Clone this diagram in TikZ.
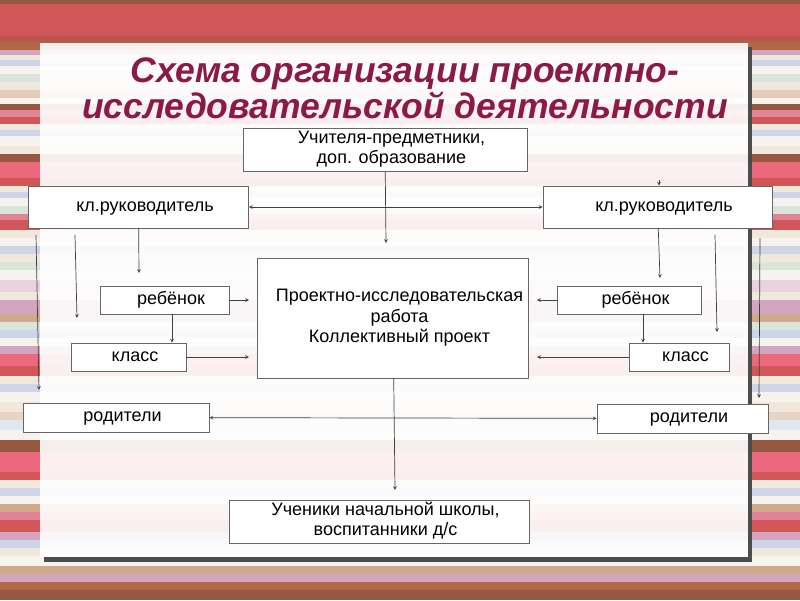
\documentclass[tikz,border=0pt]{standalone}
\usepackage{fontspec}
\setmainfont{Liberation Sans}

\definecolor{titlered}{RGB}{140,26,72}
\definecolor{sred}{RGB}{208,86,88}
\definecolor{sbrown}{RGB}{150,88,64}
\definecolor{sorange}{RGB}{176,104,70}
\definecolor{spink}{RGB}{236,104,124}
\definecolor{srose}{RGB}{226,130,150}
\definecolor{smauve}{RGB}{210,166,190}
\definecolor{sblue}{RGB}{204,214,232}
\definecolor{scream}{RGB}{240,232,218}
\definecolor{swhite}{RGB}{246,242,238}
\definecolor{stan}{RGB}{208,168,138}
\definecolor{sgreen}{RGB}{218,228,218}

% box text, set a little to the right as in the slide
\newcommand\bxt[1]{\hspace*{13pt}\begin{tabular}{@{}c@{}}#1\end{tabular}}

\begin{document}
\begin{tikzpicture}[>=stealth, x=1pt, y=-1pt,
  box/.style={draw=black!60, fill=white, line width=.8pt, inner sep=0pt,
    font=\fontsize{18}{20.5}\selectfont},
  link/.style={draw=black!75, line width=.7pt}]
\useasboundingbox (0,0) rectangle (800,600);

% stripes
\foreach \a/\b/\c in {0/4/sbrown, 4/36/sred, 36/42/sred!60!sbrown, 42/50/sorange,
  50/55/smauve, 55/60/scream, 60/66/sblue, 66/74/swhite, 74/82/sgreen, 82/90/scream,
  90/98/stan!60!white, 98/104/swhite, 104/110/sbrown, 110/117/srose, 117/124/sred,
  124/130/scream, 130/136/sblue, 136/146/swhite, 146/154/scream, 154/162/sbrown,
  162/178/spink, 178/186/sred, 186/192/scream, 192/198/sblue, 198/206/swhite,
  206/214/sgreen, 214/220/srose, 220/230/sred, 230/238/scream, 238/246/swhite,
  246/254/sblue, 254/262/scream, 262/270/sgreen, 270/280/swhite, 280/292/smauve!50!white,
  292/300/scream, 300/314/smauve, 314/322/stan, 322/330/sgreen, 330/338/sblue,
  338/346/swhite, 346/354/smauve, 354/366/spink, 366/376/sred, 376/384/scream,
  384/392/sblue, 392/402/swhite, 402/412/scream, 412/420/stan!50!white,
  420/430/sblue!60!white, 430/440/swhite, 440/452/sbrown, 452/472/spink, 472/480/sred,
  480/488/scream, 488/496/sblue, 496/504/swhite, 504/512/stan, 512/520/srose,
  520/532/sred, 532/540/smauve, 540/548/sblue, 548/556/scream, 556/566/swhite,
  566/574/stan, 574/582/smauve, 582/590/sorange, 590/600/sbrown}
  \fill[\c] (0,\a) rectangle (800,\b);

% panel
\fill[black!70] (748,47) rectangle (752,562);
\fill[black!70] (44,557) rectangle (752,562);
\fill[white, fill opacity=.9] (40,43) rectangle (748,557);

\node(title) at (405,88)[text=titlered, align=center,
  font=\fontsize{35.5}{36}\selectfont\bfseries\itshape]
  {Схема организации проектно-\\исследовательской деятельности};

\node[box, minimum width=284pt, minimum height=43pt](T) at (385,149.5){\bxt{Учителя-предметники,\\доп. образование}};
\node[box, minimum width=220pt, minimum height=42pt](K1) at (138.5,207){\bxt{кл.руководитель}};
\node[box, minimum width=229pt, minimum height=42pt](K2) at (657.5,207){\bxt{кл.руководитель}};
\node[box, minimum width=271pt, minimum height=120pt](P) at (393,318){\bxt{Проектно-исследовательская\\работа\\Коллективный проект}};
\node[box, minimum width=129pt, minimum height=28pt](R1) at (164.5,300){\bxt{ребёнок}};
\node[box, minimum width=115pt, minimum height=28pt](C1) at (128.5,357){\bxt{класс}};
\node[box, minimum width=186pt, minimum height=29pt](D1) at (116,417.5){\bxt{родители}};
\node[box, minimum width=144pt, minimum height=28pt](R2) at (629,300){\bxt{ребёнок}};
\node[box, minimum width=100pt, minimum height=28pt](C2) at (679,357){\bxt{класс}};
\node[box, minimum width=171pt, minimum height=29pt](D2) at (682.5,418.5){\bxt{родители}};
\node[box, minimum width=300pt, minimum height=43pt](S) at (379,521.5){\bxt{Ученики начальной школы,\\воспитанники д/с}};

% free ends
\coordinate(t1) at (386,243);
\coordinate(p1) at (395,490);
\coordinate(k1) at (139,273);
\coordinate(a1) at (75,235);
\coordinate(a2) at (77,318);
\coordinate(b1) at (36,235);
\coordinate(b2) at (39,390);
\coordinate(r1) at (249,300);
\coordinate(c1) at (249,357);
\coordinate(rc1) at (172,0);
\coordinate(k2) at (660,278);
\coordinate(k3) at (659,180);
\coordinate(a3) at (715,235);
\coordinate(a4) at (717,332);
\coordinate(b3) at (760,238);
\coordinate(b4) at (759,398);
\coordinate(r3) at (537,300);
\coordinate(c3) at (537,357);
\coordinate(rc2) at (643,0);

\draw[link,->](T)--(t1);
\draw[link,<->](K1)--(K2);
\draw[link,->](P)--(p1);
\draw[link,<->](D1)--(D2);

\draw[link,->](K1)--(k1);
\draw[link,->](a1)--(a2);
\draw[link,->](b1)--(b2);
\draw[link,->](R1)--(r1);
\draw[link,->](R1.south -| rc1)--(C1.north -| rc1);
\draw[link,->](C1)--(c1);

\draw[link,->](K2)--(k2);
\draw[link,->](k3)--(K2.north -| k3);
\draw[link,->](a3)--(a4);
\draw[link,->](b3)--(b4);
\draw[link,->](R2)--(r3);
\draw[link,->](R2.south -| rc2)--(C2.north -| rc2);
\draw[link,->](C2)--(c3);
\end{tikzpicture}
\end{document}
